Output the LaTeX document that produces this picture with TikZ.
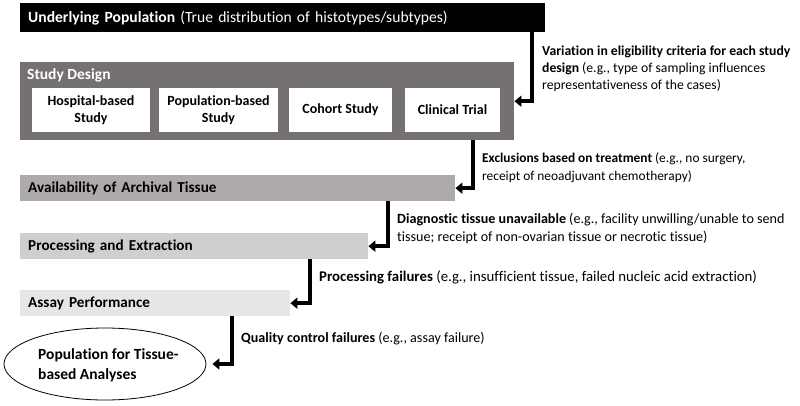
\documentclass[tikz,border=0pt]{standalone}
\usepackage{fontspec}
\setmainfont{Carlito}[Ligatures=NoCommon]
\usetikzlibrary{arrows.meta,shapes.geometric}
\definecolor{designgray}{HTML}{767171}
\definecolor{availgray}{HTML}{AEAAAA}
\definecolor{procgray}{HTML}{D0CECE}
\definecolor{assaygray}{HTML}{E7E6E6}
\begin{document}
\begin{tikzpicture}[x=1pt,y=-1pt,
  headfont/.style={font=\fontsize{15.6}{18}\selectfont},
  bar/.style={anchor=north west, inner xsep=8pt, inner ysep=0pt, align=left, minimum height=26pt, text=black, font=\fontsize{15.2}{18}\selectfont\bfseries},
  inbox/.style={fill=white, align=center, inner sep=0pt, minimum height=44pt, font=\fontsize{14}{17}\selectfont\bfseries},
  arr/.style={line width=3.6pt, line join=miter, -{Triangle[length=7pt,width=11pt]}},
  lbl/.style={anchor=north west, align=left, inner sep=0pt}]
\useasboundingbox (0,0) rectangle (800,405);
% top bar
\node[anchor=north west, fill=black, text=white, text width=509pt, inner xsep=8pt, inner ysep=0pt, minimum height=29pt, align=left, headfont] (top) at (20,3)
  {\textbf{Underlying Population} (True distribution of histotypes/subtypes)};
% study design
\node[anchor=north west, fill=designgray, minimum width=494pt, minimum height=78pt, inner sep=0pt] (design) at (20,62) {};
\node[anchor=west, text=white, inner sep=0pt, font=\fontsize{15.5}{18}\selectfont\bfseries] (designlbl) at (27,75) {Study Design};
\node[inbox, minimum width=118pt] (hosp) at (91,110) {Hospital-based\\Study};
\node[inbox, minimum width=119pt] (popb) at (218.5,110) {Population-based\\Study};
\node[inbox, minimum width=103pt] (coh) at (340.5,110) {Cohort Study};
\node[inbox, minimum width=95pt] (clin) at (452.5,110) {Clinical Trial};
% bars
\node[bar, fill=availgray, text width=419pt] (avail) at (20,175) {Availability of Archival Tissue};
\node[bar, fill=procgray, text width=332pt] (proc) at (20,233) {Processing and Extraction};
\node[bar, fill=assaygray, text width=254pt] (assay) at (20,290) {Assay Performance};
% ellipse
\node[ellipse, draw=black, line width=0.8pt, minimum width=202pt, minimum height=72pt, inner sep=0pt] (final) at (105,364) {};
\node[anchor=north west, align=left, inner sep=0pt, font=\fontsize{15.5}{20.5}\selectfont\bfseries] (finallbl) at (38,348) {Population for Tissue-\\based Analyses};
% arrows
\draw[arr] (top.south -| 532,0) |- (design.east);
\draw[arr] (design.south -| 473,0) |- (avail.east);
\draw[arr] (avail.south -| 388,0) |- (proc.east);
\draw[arr] (proc.south -| 310,0) |- (assay.east);
\draw[arr, shorten >=6pt] (assay.south -| 232,0) |- (final.east);
% labels
\node[lbl, font=\fontsize{13.7}{17}\selectfont] (l1) at (542,46) {\textbf{Variation in eligibility criteria for each study}\\\textbf{design} (e.g., type of sampling influences\\representativeness of the cases)};
\node[lbl, font=\fontsize{13.4}{18}\selectfont] (l2) at (482,152) {\textbf{Exclusions based on treatment} (e.g., no surgery,\\receipt of neoadjuvant chemotherapy)};
\node[lbl, font=\fontsize{14.1}{18}\selectfont] (l3) at (397,213) {\textbf{Diagnostic tissue unavailable} (e.g., facility unwilling/unable to send\\tissue; receipt of non-ovarian tissue or necrotic tissue)};
\node[lbl, font=\fontsize{14.8}{18}\selectfont] (l4) at (319,270) {\textbf{Processing failures} (e.g., insufficient tissue, failed nucleic acid extraction)};
\node[lbl, font=\fontsize{14.1}{18}\selectfont] (l5) at (241,332) {\textbf{Quality control failures} (e.g., assay failure)};
\end{tikzpicture}
\end{document}
